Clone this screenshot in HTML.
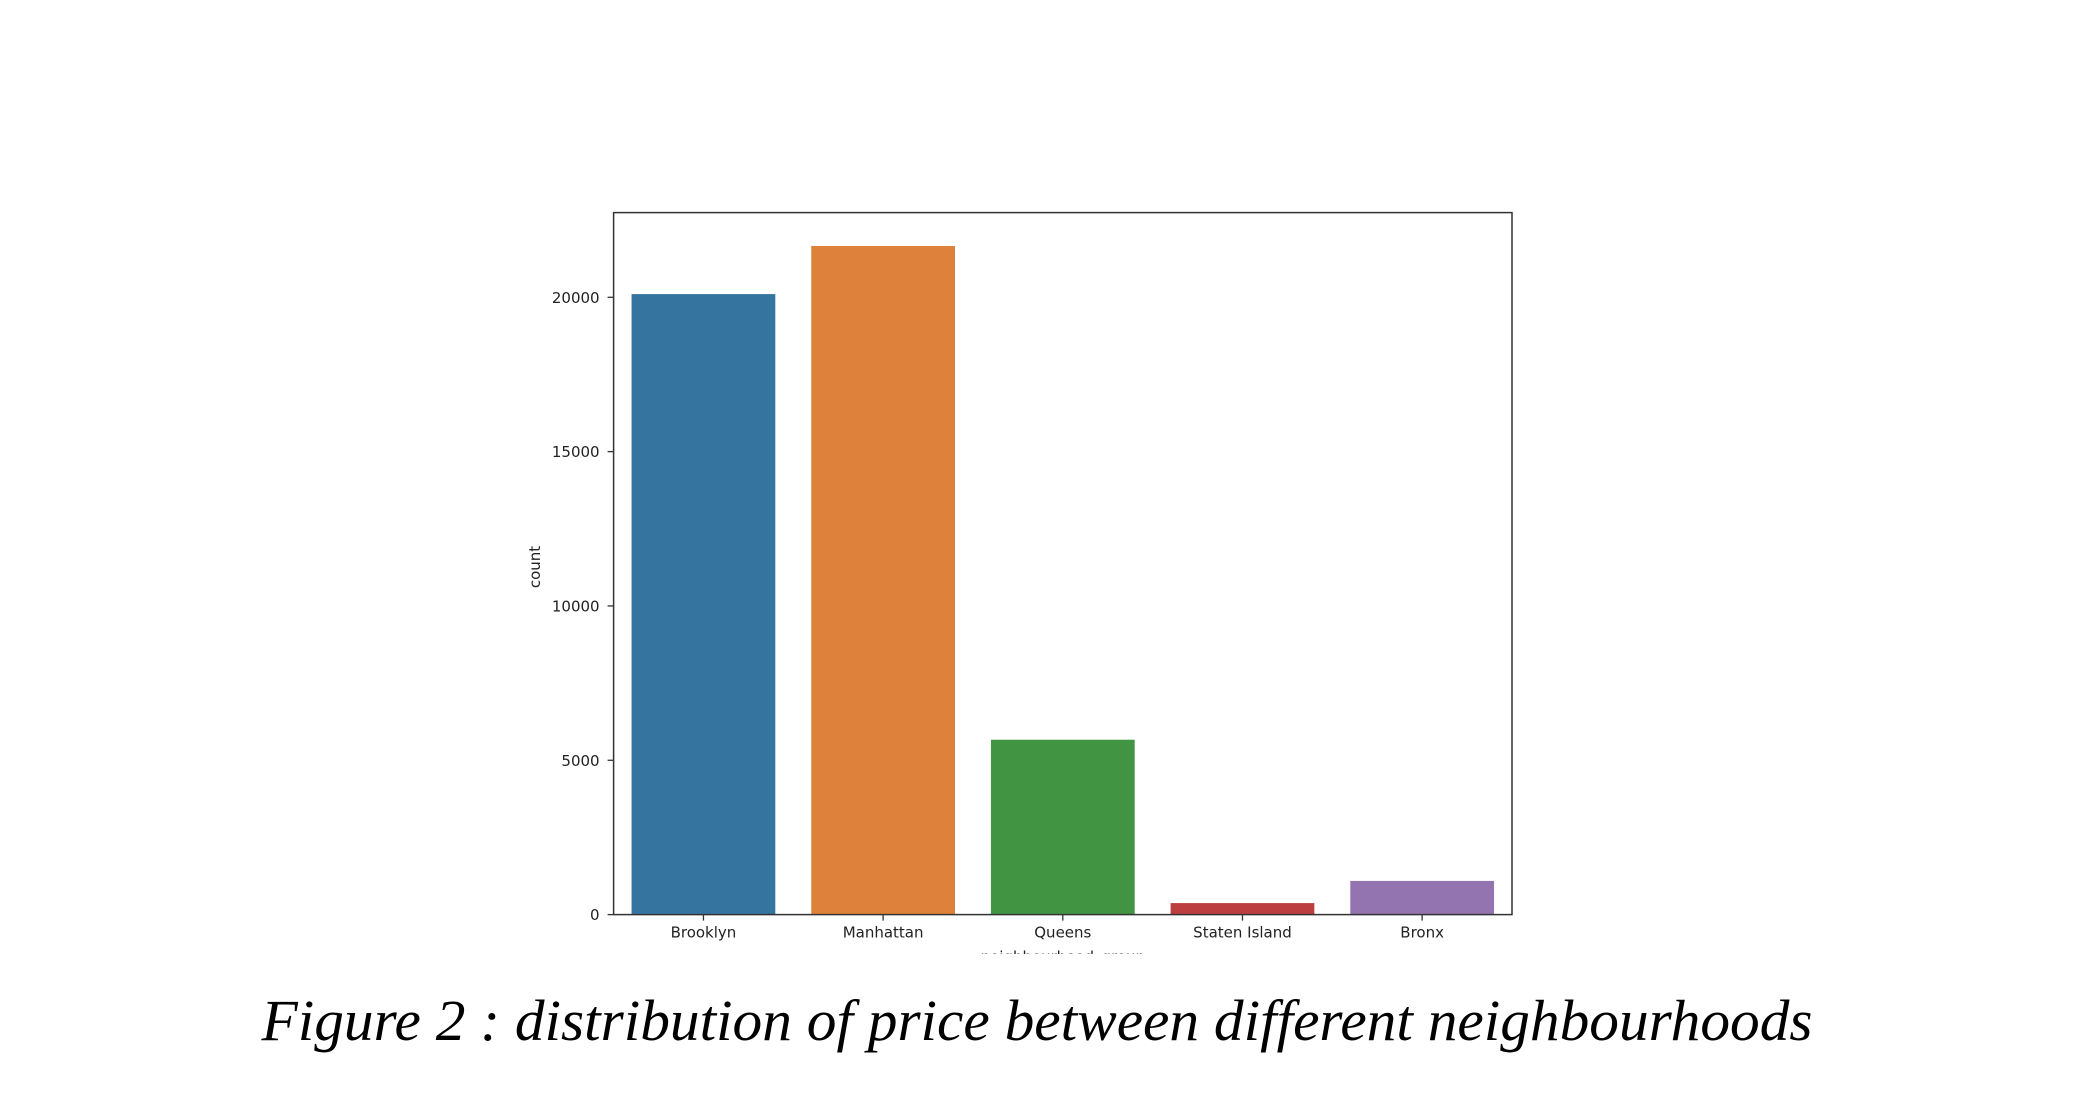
<!DOCTYPE html>
<html><head><meta charset="utf-8"><style>
html,body{margin:0;padding:0;background:#fff;}
svg{display:block;}
</style></head><body>
<svg id="chart" width="2078" height="1104" viewBox="0 0 2078 1104" xmlns="http://www.w3.org/2000/svg">
<defs><clipPath id="clipc"><rect x="0" y="0" width="2078" height="954"/></clipPath></defs>
<g id="plot" clip-path="url(#clipc)"></g>
<text x="1037" y="1040" text-anchor="middle" font-family="'Liberation Serif', serif" font-style="italic" font-size="58" textLength="1551" lengthAdjust="spacingAndGlyphs" fill="#000">Figure 2 : distribution of price between different neighbourhoods</text>
</svg>
<script>
const categories = ["Brooklyn","Manhattan","Queens","Staten Island","Bronx"];
const counts = [20104, 21661, 5666, 373, 1091];
const colors = ["#3674a0","#de813a","#419442","#bd3e3e","#9474b0"];
const yTicks = [0, 5000, 10000, 15000, 20000];

const NS = "http://www.w3.org/2000/svg";
const g = document.getElementById('plot');
const L = 613.6, R = 1512, T = 212.6, B = 914.6;
const yMax = Math.max(...counts) * 1.05;
const band = (R - L) / categories.length;
function xPos(i){ return L + band * i; }
function yPos(v){ return B - (v / yMax) * (B - T); }
function mk(tag, attrs){ const e = document.createElementNS(NS, tag); for (const k in attrs) e.setAttribute(k, attrs[k]); g.appendChild(e); return e; }

counts.forEach((v, i) => {
  const r = mk('rect', {x: xPos(i) + band*0.1, y: yPos(v), width: band*0.8, height: B - yPos(v), fill: colors[i]});
  
  
  const cx = xPos(i) + band/2;
  const t = mk('line', {x1: cx, x2: cx, y1: B, y2: B + 6, stroke: '#333', 'stroke-width': 1.3});
  
  
  const lb = mk('text', {x: cx, y: B + 23, 'text-anchor': 'middle', 'font-family': "'DejaVu Sans', sans-serif", 'font-size': 15, fill: '#222'});
  lb.textContent = categories[i];
  
  
});

yTicks.forEach(v => {
  const y = yPos(v);
  const t = mk('line', {x1: L - 6, x2: L, y1: y, y2: y, stroke: '#333', 'stroke-width': 1.3});
  
  
  const lb = mk('text', {x: L - 14, y: y + 5.5, 'text-anchor': 'end', 'font-family': "'DejaVu Sans', sans-serif", 'font-size': 15, fill: '#222'});
  lb.textContent = String(v);
  
  
});

const frame = mk('rect', {x: L, y: T, width: R - L, height: B - T, fill: 'none', stroke: '#333', 'stroke-width': 1.5});



const yl = mk('text', {x: 540, y: 567, 'text-anchor': 'middle', transform: 'rotate(-90 540 567)', 'font-family': "'DejaVu Sans', sans-serif", 'font-size': 15, fill: '#222'});
yl.textContent = 'count';



const xl = mk('text', {x: (L + R)/2, y: 962, 'text-anchor': 'middle', 'font-family': "'DejaVu Sans', sans-serif", 'font-size': 15, fill: '#222'});
xl.textContent = 'neighbourhood_group';


</script>
</body></html>
